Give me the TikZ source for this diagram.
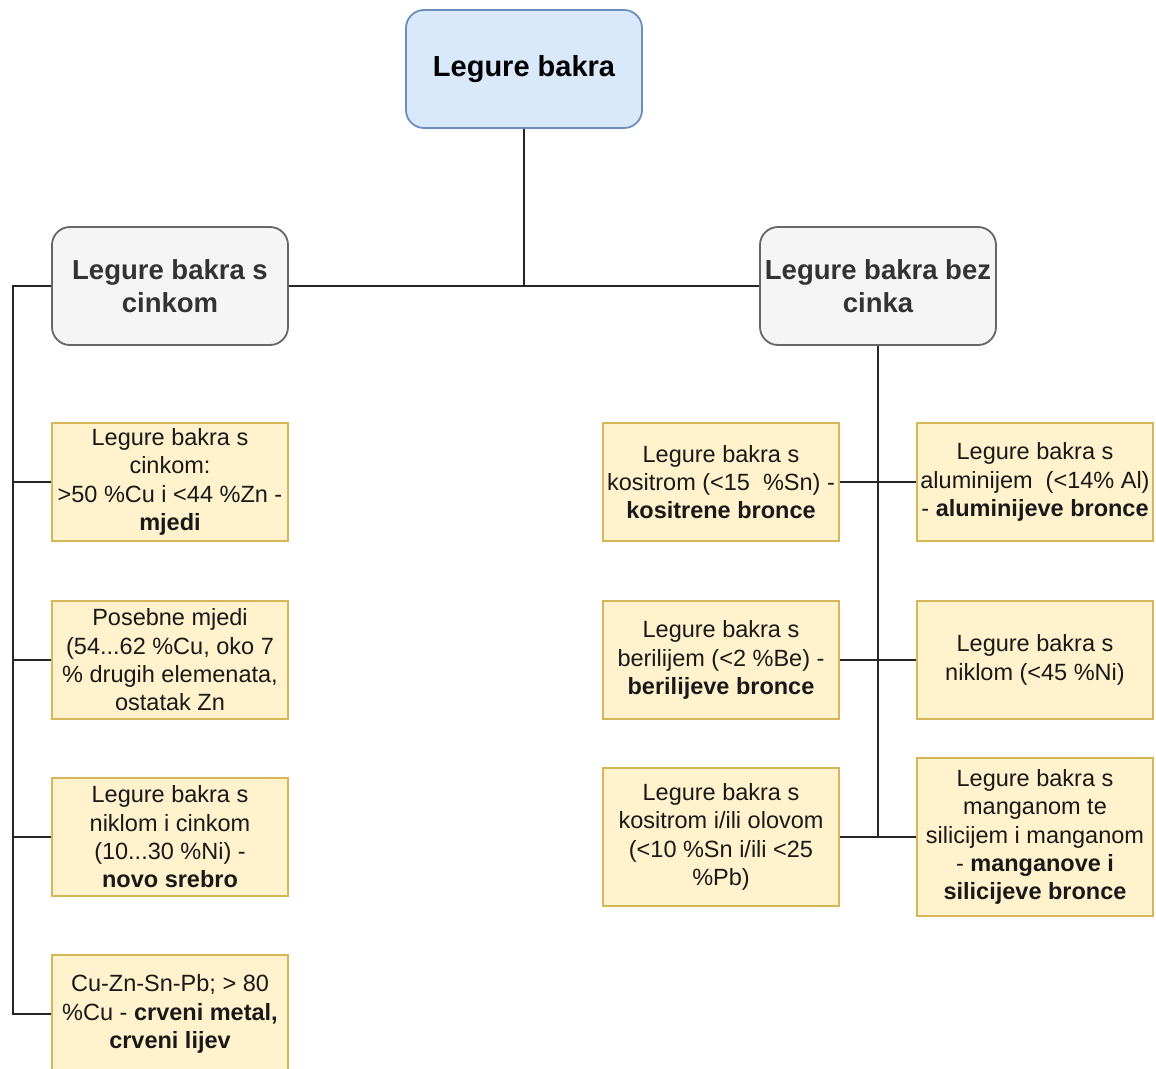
\documentclass[tikz,border=0pt]{standalone}
\usepackage{fontspec}
\setmainfont{Liberation Sans}
\begin{document}
\begin{tikzpicture}[x=1pt,y=-1pt,
  conn/.style={draw=black!85, line width=2pt},
  topbox/.style={draw=c6c8ebf, fill=cdae8fc, rounded corners=18pt, line width=1.8pt,
    minimum width=236pt, minimum height=118pt, inner sep=0pt, align=center,
    font=\fontsize{29}{34}\selectfont\bfseries},
  midbox/.style={draw=c666666, fill=cf5f5f5, text=c333333, rounded corners=18pt, line width=1.8pt,
    minimum width=236pt, minimum height=118pt, inner sep=0pt, align=center,
    font=\fontsize{27.5}{33}\selectfont\bfseries},
  leafbox/.style={draw=cd6b656, fill=cfff2cc, text=black!90, line width=1.8pt,
    minimum width=236pt, minimum height=118pt, inner sep=0pt, align=center,
    font=\fontsize{23.5}{28.3}\selectfont}
]
\definecolor{c6c8ebf}{HTML}{6C8EBF}
\definecolor{cdae8fc}{HTML}{DAE8FC}
\definecolor{c666666}{HTML}{666666}
\definecolor{cf5f5f5}{HTML}{F5F5F5}
\definecolor{c333333}{HTML}{333333}
\definecolor{cd6b656}{HTML}{D6B656}
\definecolor{cfff2cc}{HTML}{FFF2CC}
\useasboundingbox (0,0) rectangle (1156,1068);

\node[topbox] (root) at (524,69) {Legure bakra};
\node[midbox] (L) at (170,286) {Legure bakra s\\cinkom};
\node[midbox] (R) at (878,286) {Legure bakra bez\\cinka};

\node[leafbox] (c1) at (170,482) {Legure bakra s\\cinkom:\\>50 \%Cu i <44 \%Zn -\\\textbf{mjedi}};
\node[leafbox] (c2) at (170,660) {Posebne mjedi\\(54...62 \%Cu, oko 7\\\% drugih elemenata,\\ostatak Zn};
\node[leafbox] (c3) at (170,837) {Legure bakra s\\niklom i cinkom\\(10...30 \%Ni) -\\\textbf{novo srebro}};
\node[leafbox] (c4) at (170,1014) {Cu-Zn-Sn-Pb; > 80\\\%Cu - \textbf{crveni metal,}\\\textbf{crveni lijev}};

\node[leafbox] (r1l) at (721,482) {Legure bakra s\\kositrom (<15\ \ \%Sn) -\\\textbf{kositrene bronce}};
\node[leafbox] (r1r) at (1035,482) {Legure bakra s\\aluminijem\ \ (<14\% Al)\\- \textbf{aluminijeve bronce}};
\node[leafbox] (r2l) at (721,660) {Legure bakra s\\berilijem (<2 \%Be) -\\\textbf{berilijeve bronce}};
\node[leafbox] (r2r) at (1035,660) {Legure bakra s\\niklom (<45 \%Ni)};
\node[leafbox, minimum height=138pt] (r3l) at (721,837) {Legure bakra s\\kositrom i/ili olovom\\(<10 \%Sn i/ili <25\\\%Pb)};
\node[leafbox, minimum height=158pt] (r3r) at (1035,837) {Legure bakra s\\manganom te\\silicijem i manganom\\- \textbf{manganove i}\\\textbf{silicijeve bronce}};

\coordinate (lbus) at (13,286);

\begin{scope}[on background layer/.style={}]
\draw[conn] (root.south) |- (L.east);
\draw[conn] (root.south) |- (R.west);
\draw[conn] (L.west) -- (lbus) |- (c1.west);
\draw[conn] (lbus) |- (c2.west);
\draw[conn] (lbus) |- (c3.west);
\draw[conn] (lbus) |- (c4.west);
\draw[conn] (R.south) |- (r1l.east);
\draw[conn] (R.south) |- (r1r.west);
\draw[conn] (R.south) |- (r2l.east);
\draw[conn] (R.south) |- (r2r.west);
\draw[conn] (R.south) |- (r3l.east);
\draw[conn] (R.south) |- (r3r.west);
\end{scope}
\end{tikzpicture}
\end{document}
